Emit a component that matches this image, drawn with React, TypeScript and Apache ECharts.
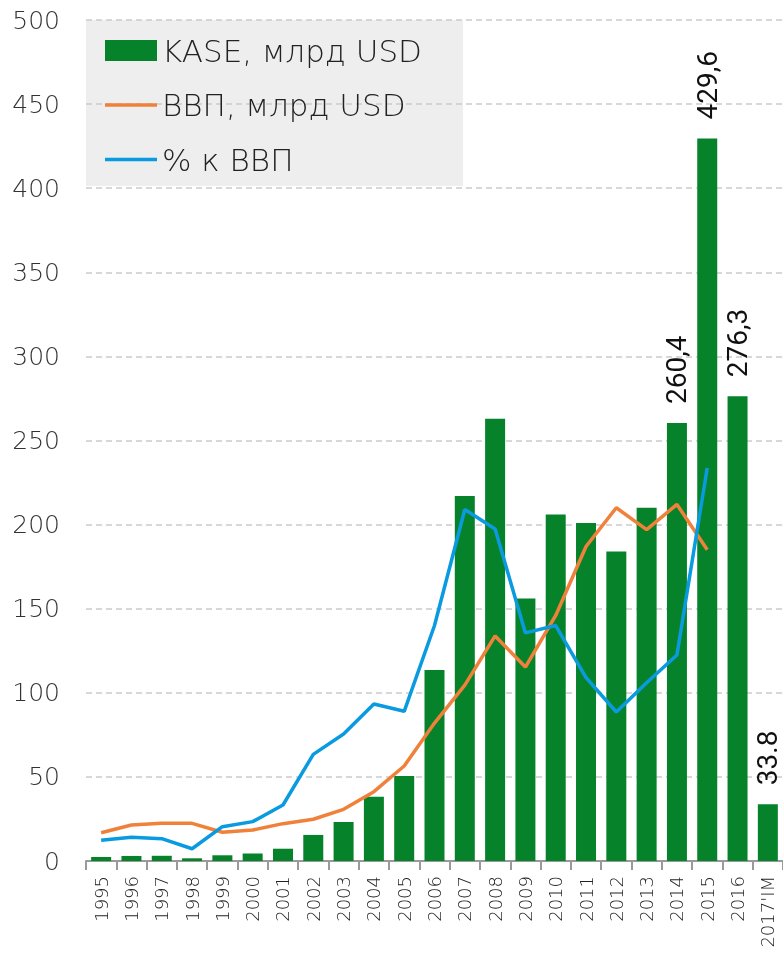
import React, { useEffect, useRef } from "react";
import * as echarts from "echarts";

const categories = ["1995","1996","1997","1998","1999","2000","2001","2002","2003","2004","2005","2006","2007","2008","2009","2010","2011","2012","2013","2014","2015","2016","2017'IM"];
const kase = [2.4,3.0,3.1,1.6,3.4,4.4,7.3,15.5,23.2,38.2,50.5,113.5,217,263,156,206,201,184,210,260.4,429.6,276.3,33.8];
const gdp = [16.8,21.4,22.4,22.4,17.1,18.4,22.2,24.8,30.7,41.2,56.5,82,104.6,133.8,115.3,146,187,210,197,212,185];
const pctGdp = [12.3,14.1,13.3,7.3,20.4,23.4,33.3,63.4,75.5,93.3,89,140,209,197.4,135.6,140,109,88.6,106,122.5,233.7];
const barLabels: Record<string, string> = { "2014": "260,4", "2015": "429,6", "2016": "276,3", "2017'IM": "33.8" };
const yTicks = [0, 50, 100, 150, 200, 250, 300, 350, 400, 450, 500];

const FONT = "DejaVu Sans";
const LINE_ICON = "path://M0,0H52V3.5H0Z";

export default function App() {
  const ref = useRef<HTMLDivElement>(null);
  useEffect(() => {
    if (!ref.current) return;
    const chart = echarts.init(ref.current, null, { renderer: "svg" });
    chart.setOption({
      animation: false,
      textStyle: { fontFamily: FONT },
      grid: { left: 86, right: 0, top: 20, bottom: 92, containLabel: false },
      graphic: [
        {
          type: "rect",
          left: 86,
          top: 20,
          z: -10,
          shape: { width: 377, height: 166 },
          style: { fill: "#eeeeee" },
        },
      ],
      legend: {
        orient: "vertical",
        left: 86,
        top: 20,
        padding: [13.5, 10, 10, 19],
        itemWidth: 52,
        itemHeight: 21,
        itemGap: 20.5,
        symbolKeepAspect: true,
        textStyle: { fontSize: 31, fontWeight: 200, lineHeight: 34, color: "#222", fontFamily: FONT },
        data: [
          { name: "KASE, млрд USD", icon: "rect" },
          { name: "ВВП, млрд USD", icon: LINE_ICON },
          { name: "% к ВВП", icon: LINE_ICON },
        ],
      },
      xAxis: {
        type: "category",
        data: categories,
        axisLine: { lineStyle: { color: "#9a9a9a", width: 2 } },
        axisTick: { show: true, length: 9, lineStyle: { color: "#9a9a9a", width: 2 } },
        axisLabel: { rotate: 90, fontSize: 18, fontWeight: 200, color: "#222", margin: 15, interval: 0, fontFamily: FONT },
      },
      yAxis: {
        type: "value",
        min: 0,
        max: yTicks[yTicks.length - 1],
        interval: 50,
        axisLine: { show: false },
        axisTick: { show: false },
        axisLabel: { fontSize: 25, fontWeight: 200, color: "#333", margin: 26, fontFamily: FONT },
        splitLine: { lineStyle: { color: "#cccccc", type: [6, 4], width: 1.5 } },
      },
      series: [
        {
          name: "KASE, млрд USD",
          type: "bar",
          data: kase,
          barWidth: 20,
          itemStyle: { color: "#06832a" },
          label: {
            show: true,
            position: "top",
            rotate: 90,
            align: "left",
            verticalAlign: "middle",
            distance: 19,
            fontSize: 28,
            color: "#111",
            fontFamily: "Roboto",
            formatter: (p: any) => barLabels[p.name] || "",
          },
        },
        {
          name: "ВВП, млрд USD",
          type: "line",
          data: gdp,
          symbol: "none",
          lineStyle: { color: "#f0813a", width: 3.5 },
          itemStyle: { color: "#f0813a" },
        },
        {
          name: "% к ВВП",
          type: "line",
          data: pctGdp,
          symbol: "none",
          lineStyle: { color: "#0a9ae0", width: 3.5 },
          itemStyle: { color: "#0a9ae0" },
        },
      ],
    });
    return () => chart.dispose();
  }, []);
  return <div ref={ref} style={{ position: "fixed", left: 0, top: 0, width: 783, height: 953 }} />;
}
